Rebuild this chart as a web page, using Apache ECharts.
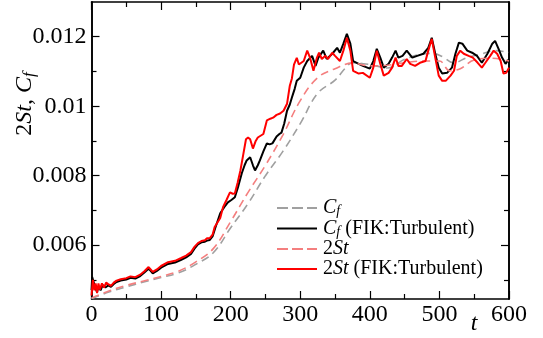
<!DOCTYPE html>
<html><head><meta charset="utf-8">
<script src="https://cdn.jsdelivr.net/npm/echarts@6/dist/echarts.min.js"></script>
<style>html,body{margin:0;padding:0;background:#fff}#c{width:543px;height:338px}</style>
</head><body><div id="c"></div>
<script>
// ---- data ----
var tCf = [0,25,50,75,100,125,150,175,200,225,250,275,300,325,350,365,375,400,425,450,475,490,505,520,540,560,580,600];
var cf  = [0.00446,0.00465,0.0048,0.00494,0.00507,0.0052,0.00545,0.00578,0.0065,0.0072,0.0080,0.0087,0.0095,0.01037,0.01075,0.0111,0.01125,0.0112,0.0111,0.01135,0.0115,0.01152,0.01142,0.01125,0.0114,0.0115,0.0116,0.01155];

var tSt = [0,25,50,75,100,125,150,175,200,225,250,275,300,325,350,375,400,425,450,475,500,515,530,550,575,600];
var st  = [0.00448,0.00468,0.00484,0.00497,0.0051,0.00525,0.00552,0.0059,0.00668,0.00752,0.0083,0.00917,0.01016,0.01082,0.01108,0.01124,0.01116,0.01118,0.01125,0.0113,0.0113,0.01102,0.01108,0.01133,0.01138,0.0113];

var tCfFIK = [0,1,3,5,8,10,13,16,20,24,28,32,36,42,50,56,63,70,76,82,85,88,94,100,110,120,129,136,143,148,153,158,163,166,170,174,178,185,191,196,201,206,211,216,220,223,228,232,235,239,242,247,252,256,260,266,270,273,277,281,285,288,292,295,300,305,310,317,322,326,333,338,346,353,357,362,367,372,376,384,390,400,405,410,415,420,427,432,437,441,447,453,461,468,477,484,489,494,499,504,511,518,523,528,533,540,547,554,561,569,576,580,585,590,595,600];
var cfFIK  = [0.0047,0.00508,0.00505,0.0048,0.00465,0.00482,0.0047,0.00485,0.00478,0.00484,0.0048,0.00488,0.00494,0.00498,0.00501,0.00506,0.00504,0.00511,0.00521,0.00532,0.00526,0.00519,0.00526,0.00535,0.00546,0.0055,0.00558,0.00565,0.00575,0.0059,0.00602,0.00608,0.0061,0.00613,0.00615,0.00625,0.0065,0.00692,0.0071,0.00723,0.0073,0.00738,0.0077,0.00807,0.0083,0.00844,0.00853,0.0083,0.00815,0.0083,0.00844,0.0087,0.00893,0.0089,0.00893,0.00913,0.0092,0.00924,0.0095,0.00987,0.01005,0.01025,0.0105,0.01073,0.01082,0.01111,0.0113,0.01145,0.01116,0.0114,0.0116,0.01136,0.01151,0.01168,0.01154,0.0118,0.01208,0.0118,0.0113,0.01122,0.01116,0.01108,0.0113,0.01165,0.0114,0.01111,0.01122,0.0114,0.0116,0.0114,0.01145,0.0116,0.0114,0.01145,0.01151,0.01168,0.01197,0.01151,0.01111,0.01094,0.01096,0.01111,0.01151,0.01183,0.0118,0.0116,0.01154,0.01145,0.01125,0.01151,0.0118,0.01188,0.01165,0.0114,0.01122,0.01136];

var tStFIK = [0,2,4,6,8,10,12,15,18,21,24,28,32,36,42,50,56,63,70,76,82,85,88,94,100,110,120,129,136,143,148,153,158,163,166,170,174,177,181,185,189,194,199,203,206,210,214,218,222,225,228,232,236,239,243,247,252,257,261,266,271,276,281,285,288,291,295,298,300,305,310,314,319,324,327,331,336,340,346,350,357,362,367,372,376,384,390,400,405,410,415,420,427,432,437,441,446,453,458,465,472,480,484,489,494,499,504,509,516,521,525,530,535,542,548,555,561,566,573,578,583,588,592,596,600];
var stFIK  = [0.00455,0.0050,0.0047,0.0049,0.00462,0.0049,0.00472,0.0049,0.00478,0.00492,0.00488,0.00483,0.00492,0.00498,0.00502,0.00505,0.0051,0.00508,0.00515,0.00525,0.00537,0.0053,0.00523,0.0053,0.0054,0.00551,0.00555,0.00563,0.0057,0.0058,0.00595,0.00606,0.00612,0.00614,0.0062,0.0062,0.0063,0.00652,0.00665,0.00678,0.00709,0.0073,0.00752,0.00748,0.00749,0.0078,0.00815,0.0086,0.00905,0.0091,0.00905,0.00878,0.009,0.0091,0.00915,0.0092,0.00959,0.00964,0.00967,0.00975,0.00979,0.00987,0.01007,0.01059,0.0108,0.0112,0.01139,0.0112,0.01122,0.0113,0.0116,0.0114,0.01102,0.0114,0.01154,0.01136,0.01145,0.01136,0.01154,0.01145,0.0113,0.0116,0.01197,0.0116,0.01102,0.01094,0.01096,0.01082,0.01111,0.0116,0.01122,0.01088,0.01096,0.01111,0.0114,0.01116,0.01116,0.01136,0.01122,0.01116,0.01125,0.0113,0.0116,0.01194,0.0114,0.01088,0.01073,0.01073,0.01088,0.01102,0.01145,0.0116,0.01151,0.01145,0.0114,0.01125,0.01111,0.01125,0.01145,0.0116,0.01151,0.0113,0.01094,0.01096,0.01111];

var xLabels = [0,100,200,300,400,500,600];
var yLabels = [0.006,0.008,0.010,0.012];
var yMinorTicks = [0.005,0.007,0.009,0.011];
var seriesNames = ['Cf','CfFIK','2St','2StFIK'];

// ---- chart ----
function zip(a,b){return a.map(function(v,i){return [v,b[i]];});}
var FONT = '"Liberation Serif", "Times New Roman", Times, serif';
var chart = echarts.init(document.getElementById('c'), null, {renderer:'canvas'});
var YMIN = 0.00445, YMAX = 0.013;
var axisLine = {show:true, lineStyle:{color:'#000', width:1.6}};
function yAxisDef(pos, ticks, len, labels){
  return {type:'value', position:pos, min:YMIN, max:YMAX, splitLine:{show:false},
    axisLine: axisLine,
    axisTick:{show:true, inside:true, length:len, customValues:ticks, lineStyle:{color:'#000',width:1.2}},
    axisLabel: labels ? {show:true, customValues:yLabels, margin:5, color:'#000', fontFamily:FONT, fontSize:24,
       formatter:function(v){return String(+v.toFixed(3));}} : {show:false}
  };
}
function xAxisDef(pos, labels){
  return {type:'value', position:pos, min:0, max:600, interval:100, splitLine:{show:false},
    axisLine: axisLine,
    axisTick:{show:true, inside:true, length:8, lineStyle:{color:'#000',width:1.2}},
    minorTick:{show:true, splitNumber:2, length:5, lineStyle:{color:'#000',width:1.2}},
    axisLabel: labels ? {show:true, margin:4, color:'#000', fontFamily:FONT, fontSize:24} : {show:false}
  };
}
var rich = {
  n:{fontFamily:FONT, fontSize:20, color:'#000', lineHeight:21},
  i:{fontFamily:FONT, fontSize:20, fontStyle:'italic', color:'#000', lineHeight:21},
  s:{fontFamily:FONT, fontSize:14, fontStyle:'italic', color:'#000', lineHeight:10, verticalAlign:'bottom'}
};
var legendText = {
  'Cf':'{i|C}{s|f}',
  'CfFIK':'{i|C}{s|f}{n| (FIK:Turbulent)}',
  '2St':'{n|2}{i|St}',
  '2StFIK':'{n|2}{i|St}{n| (FIK:Turbulent)}'
};
var SOLID = 'path://M0,0H40V2H0Z';
var DASHED = 'path://M0,0H11V2H0Z M15,0H26V2H15Z M30,0H40V2H30Z';
var option = {
  animation:false,
  backgroundColor:'#fff',
  grid:{left:91.5, right:34, top:2, bottom:39, containLabel:false},
  xAxis:[xAxisDef('bottom', true), xAxisDef('top', false)],
  yAxis:[yAxisDef('left', yLabels, 8, true), yAxisDef('left', yMinorTicks, 5, false),
         yAxisDef('right', yLabels, 8, false), yAxisDef('right', yMinorTicks, 5, false)],
  legend:{show:true, orient:'vertical', left:272, top:193, itemWidth:42, itemHeight:2, itemGap:0,
    data:[{name:'Cf', icon:DASHED},{name:'CfFIK', icon:SOLID},{name:'2St', icon:DASHED},{name:'2StFIK', icon:SOLID}],
    formatter:function(n){return legendText[n];},
    textStyle:{fontFamily:FONT, fontSize:20, color:'#000', rich:rich}
  },
  graphic:[
    {type:'text', x:25, y:104, rotation:Math.PI/2, style:{
      text:'{n|2}{i|St}{n|, }{i|C}{s|f}', align:'center', verticalAlign:'middle',
      rich:{
        n:{fontFamily:FONT, fontSize:24, fill:'#000', lineHeight:26},
        i:{fontFamily:FONT, fontSize:24, fontStyle:'italic', fill:'#000', lineHeight:26},
        s:{fontFamily:FONT, fontSize:17, fontStyle:'italic', fill:'#000', lineHeight:12, verticalAlign:'bottom'}
      }}},
    {type:'text', x:474, y:324, style:{text:'t', fontFamily:FONT, fontSize:24, fontStyle:'italic', fill:'#000', align:'center', verticalAlign:'middle'}}
  ],
  series:[
    {name:'Cf', type:'line', data:zip(tCf,cf), smooth:0.4, symbol:'none', lineStyle:{color:'#a0a0a0', width:1.6, type:[8,5]}, itemStyle:{color:'#a0a0a0'}},
    {name:'CfFIK', type:'line', data:zip(tCfFIK,cfFIK), symbol:'none', lineStyle:{color:'#000', width:2}, itemStyle:{color:'#000'}},
    {name:'2St', type:'line', data:zip(tSt,st), smooth:0.4, symbol:'none', lineStyle:{color:'#f47f7f', width:1.6, type:[8,5]}, itemStyle:{color:'#f47f7f'}},
    {name:'2StFIK', type:'line', data:zip(tStFIK,stFIK), symbol:'none', lineStyle:{color:'#ff0000', width:2}, itemStyle:{color:'#ff0000'}}
  ]
};
chart.setOption(option);
</script></body></html>
